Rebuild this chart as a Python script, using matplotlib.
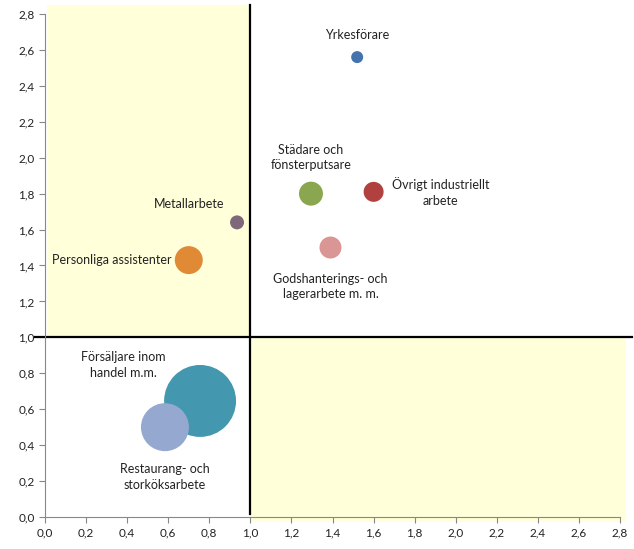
import matplotlib
matplotlib.use("Agg")
import matplotlib.pyplot as plt
from matplotlib.patches import Rectangle
from matplotlib.ticker import FuncFormatter

# data
names = ["Yrkesförare", "Städare och\nfönsterputsare", "Övrigt industriellt\narbete",
         "Godshanterings- och\nlagerarbete m. m.", "Metallarbete", "Personliga assistenter",
         "Försäljare inom\nhandel m.m.", "Restaurang- och\nstorköksarbete"]
x_vals = [1.52, 1.295, 1.60, 1.39, 0.935, 0.70, 0.755, 0.584]
y_vals = [2.56, 1.80, 1.81, 1.50, 1.64, 1.43, 0.646, 0.50]
sizes = [36, 144, 100, 121, 49, 196, 1296, 576]
colors = ["#4473AD", "#8AA64F", "#B0413E", "#DA9694", "#7F6879", "#E08A35", "#4397AE", "#95A8D0"]
# label offsets in points (dx, dy, ha)
offs = [(0, 16, "center"), (0, 26, "center"), (13, 0, "left"), (0, -28, "center"),
        (-9, 13, "right"), (-12, 0, "right"), (-55, 26, "center"), (0, -36, "center")]

plt.rcParams['font.family'] = ['Lato', 'DejaVu Sans']
fig = plt.figure(figsize=(6.34, 5.49), dpi=100)
ax = fig.add_axes([0.071, 0.0583, 0.907, 0.9162])
ax.set_xlim(0, 2.8)
ax.set_ylim(0, 2.8)

yellow = "#FFFFDA"
ax.add_patch(Rectangle((0.01, 1.0), 0.99, 1.85, facecolor=yellow, edgecolor="none", clip_on=False, zorder=0))
ax.add_patch(Rectangle((1.0, -0.03), 1.83, 1.03, facecolor=yellow, edgecolor="none", clip_on=False, zorder=0))

ax.plot([-0.05, 2.86], [1, 1], color="black", lw=1.6, clip_on=False, zorder=2)
ax.plot([1, 1], [0.015, 2.85], color="black", lw=1.6, clip_on=False, zorder=2)

s_scale = 2.07
ax.scatter(x_vals, y_vals, s=[v * s_scale for v in sizes], c=colors, edgecolors="none", zorder=3)
for i in range(len(names)):
    dx, dy, ha = offs[i]
    ax.annotate(names[i], (x_vals[i], y_vals[i]), xytext=(dx, dy), textcoords="offset points",
                ha=ha, va="center", multialignment="center", fontsize=9, color="#222222",
                linespacing=1.35, zorder=4)

ticks = [i * 0.2 for i in range(15)]
ax.set_xticks(ticks)
ax.set_yticks(ticks)
fmt = FuncFormatter(lambda v, p: ("%.1f" % v).replace(".", ","))
ax.xaxis.set_major_formatter(fmt)
ax.yaxis.set_major_formatter(fmt)
ax.tick_params(labelsize=8.5, colors="#888888", labelcolor="#222222", length=4, direction="out")
for s in ["top", "right"]:
    ax.spines[s].set_visible(False)
for s in ["left", "bottom"]:
    ax.spines[s].set_color("#888888")
ax.set_facecolor("none")

fig.savefig("out.png", dpi=100)
